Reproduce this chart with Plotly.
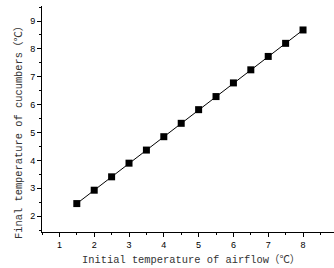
import plotly.graph_objects as go

airflow_temp = [1.5, 2.0, 2.5, 3.0, 3.5, 4.0, 4.5, 5.0, 5.5, 6.0, 6.5, 7.0, 7.5, 8.0]
cucumber_temp = [2.45, 2.93, 3.41, 3.90, 4.37, 4.85, 5.33, 5.82, 6.29, 6.78, 7.25, 7.73, 8.20, 8.68]
x_ticks = [1, 2, 3, 4, 5, 6, 7, 8]
y_ticks = [2, 3, 4, 5, 6, 7, 8, 9]
x_title = "Initial temperature of airflow（℃）"
y_title = "Final temperature of cucumbers（℃）"

fig = go.Figure()
fig.add_trace(go.Scatter(
    x=airflow_temp, y=cucumber_temp, mode="lines+markers",
    line=dict(color="black", width=1),
    marker=dict(symbol="square", size=7, color="black"),
    showlegend=False,
))

title_font = dict(family="Liberation Mono, Noto Sans CJK SC, monospace", size=10.4, color="#333")
tick_font = dict(family="Liberation Sans, Arial, sans-serif", size=9, color="black")

common = dict(
    ticks="outside", ticklen=4, tickwidth=1, tickcolor="black",
    showline=True, linecolor="black", linewidth=1, showgrid=False, zeroline=False,
    tickfont=tick_font, automargin=False,
)

fig.update_layout(
    width=334, height=268,
    margin=dict(l=42, r=0, t=6, b=36, autoexpand=False),
    paper_bgcolor="white", plot_bgcolor="white",
    xaxis=dict(
        range=[0.5, 8.89], tickvals=x_ticks, ticktext=[str(v) for v in x_ticks],
        minor=dict(dtick=0.5, tick0=0.5, ticks="outside", ticklen=2, tickcolor="black", showgrid=False),
        **common,
    ),
    yaxis=dict(
        range=[1.43, 9.54], tickvals=y_ticks, ticktext=[str(v) for v in y_ticks],
        minor=dict(dtick=0.5, tick0=0.5, ticks="outside", ticklen=2, tickcolor="black", showgrid=False),
        **common,
    ),
    annotations=[
        dict(text=x_title, xref="paper", yref="paper", x=0.509, y=-0.124, yanchor="middle",
             xanchor="center", showarrow=False, font=title_font),
        dict(text=y_title, xref="paper", yref="paper", x=-0.079, y=0.451, xanchor="center",
             yanchor="middle", textangle=-90, showarrow=False, font=title_font),
    ],
)

fig.write_html(
    "out.html",
    config={"displayModeBar": False},
    post_script="document.body.style.margin='0';document.body.style.overflow='hidden';",
)
